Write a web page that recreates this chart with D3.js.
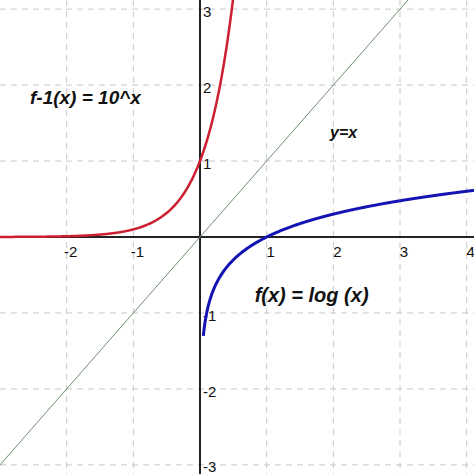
<!DOCTYPE html>
<html><head><meta charset="utf-8">
<script src="https://cdn.jsdelivr.net/npm/d3@7"></script>
<style>body{margin:0;background:#fff}svg{display:block}</style>
</head><body><div id="chart"></div>
<script>
const xTicks = [-2, -1, 1, 2, 3, 4]
const yTicks = [-3, -2, -1, 1, 2, 3]
const xGrid = [-2, -1, 1, 2, 3, 4]
const yGrid = [-3, -2, -1, 1, 2, 3]
const xDomain = [-3, 4.11]
const yDomain = [-3.12, 3.12]
const labels = [
  { text: 'f-1(x) = 10^x', x: -2.55, y: 1.75, size: 19 },
  { text: 'y=x', x: 1.95, y: 1.3, size: 16 },
  { text: 'f(x) = log (x)', x: 0.82, y: -0.85, size: 20 }
]

const width = 474, height = 474
const x = d3.scaleLinear().domain(xDomain).range([0, width])
const y = d3.scaleLinear().domain(yDomain).range([height, 0])

const svg = d3.select('#chart').append('svg').attr('width', width).attr('height', height)
  .style('font-family', 'Liberation Sans, Arial, sans-serif')

// 网格
svg.append('g').selectAll('line').data(xGrid).join('line')
  .attr('x1', d => x(d)).attr('x2', d => x(d)).attr('y1', 0).attr('y2', height)
  .attr('stroke', '#c8c8c8').attr('stroke-dasharray', '6,5')
svg.append('g').selectAll('line').data(yGrid).join('line')
  .attr('y1', d => y(d)).attr('y2', d => y(d)).attr('x1', 0).attr('x2', width)
  .attr('stroke', '#c8c8c8').attr('stroke-dasharray', '6,5')

// 坐标轴
svg.append('line').attr('x1', 0).attr('x2', width).attr('y1', y(0)).attr('y2', y(0))
  .attr('stroke', '#222').attr('stroke-width', 2)
svg.append('line').attr('x1', x(0)).attr('x2', x(0)).attr('y1', 0).attr('y2', height)
  .attr('stroke', '#222').attr('stroke-width', 2)

svg.append('g').selectAll('text').data(xTicks).join('text')
  .attr('x', d => x(d) + 4).attr('y', y(0) + 20).attr('text-anchor', 'middle')
  .attr('font-size', 15).attr('fill', '#111').text(d => d < 0 ? '-' + Math.abs(d) : d)
svg.append('g').selectAll('text').data(yTicks).join('text')
  .attr('x', x(0) + 3).attr('y', d => Math.min(y(d) + 8, height - 2))
  .attr('font-size', 15).attr('fill', '#111').text(d => d < 0 ? '-' + Math.abs(d) : d)

// 曲线
const line = d3.line().x(d => x(d[0])).y(d => y(d[1]))
const xsRed = d3.range(-3, 0.52, 0.01)
const xsBlue = d3.range(0.05, 4.12, 0.01)
const xsId = [-3.12, 3.3]

svg.append('path').datum(xsId.map(v => [v, v])).attr('d', line)
  .attr('fill', 'none').attr('stroke', '#6f8f70').attr('stroke-width', 1)
svg.append('path').datum(xsRed.map(v => [v, Math.pow(10, v)])).attr('d', line)
  .attr('fill', 'none').attr('stroke', '#cc1f30').attr('stroke-width', 2.5)
svg.append('path').datum(xsBlue.map(v => [v, Math.log10(v)])).attr('d', line)
  .attr('fill', 'none').attr('stroke', '#1414b4').attr('stroke-width', 3)

svg.append('g').selectAll('text').data(labels).join('text')
  .attr('x', d => x(d.x)).attr('y', d => y(d.y))
  .attr('font-size', d => d.size).attr('font-style', 'italic').attr('font-weight', 'bold')
  .attr('fill', '#111').text(d => d.text)
</script></body></html>
